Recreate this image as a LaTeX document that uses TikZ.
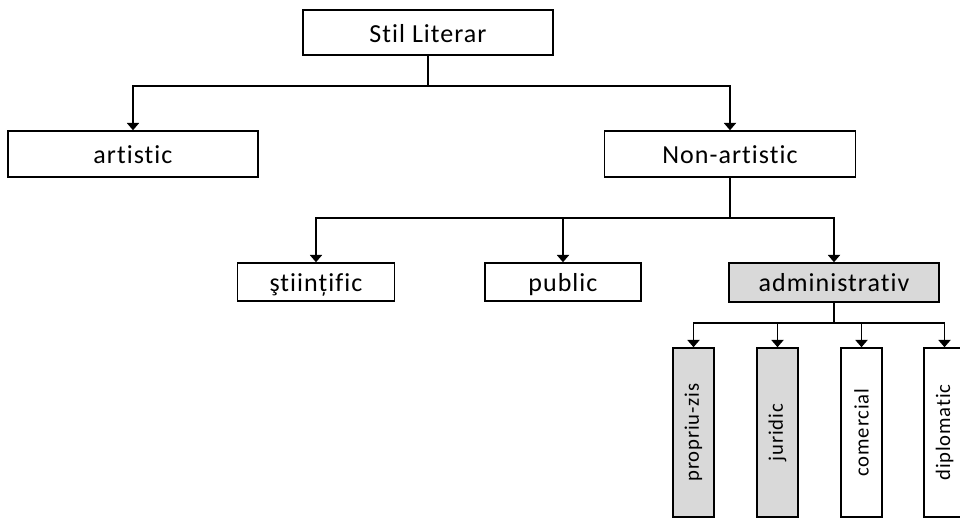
\documentclass[tikz,border=0pt]{standalone}
\usepackage{fontspec}
\usepackage{graphicx}
\setmainfont{Carlito}[Ligatures={NoCommon,NoRequired}, LetterSpace=4]
\usetikzlibrary{arrows.meta}
\definecolor{shade}{HTML}{D9D9D9}
\tikzset{
  box/.style={draw=black, line width=1.1pt, inner sep=0pt, text height=15pt, text depth=1.5pt,
    font=\fontsize{19.5}{21}\selectfont},
  vbox/.style={draw=black, line width=1.1pt, inner sep=0pt, minimum width=41*0.75pt,
    minimum height=169*0.75pt, font=\fontsize{15.5}{17}\selectfont},
  conn/.style={line width=1.4pt},
  arr/.style={conn, -{Triangle[width=9pt,length=5.5pt]}}
}
\begin{document}
\begin{tikzpicture}[x=0.75pt, y=-0.75pt]
\useasboundingbox (0,0) rectangle (960,518);

% top level
\node[box, text height=17pt, minimum width=250*0.75pt, minimum height=45*0.75pt] (root) at (428,32.5) {Stil Literar};
\node[box, minimum width=250*0.75pt, minimum height=46*0.75pt] (art) at (133,154) {artistic};
\node[box, minimum width=251*0.75pt, minimum height=46*0.75pt] (nonart) at (730,154) {Non-artistic};

% second level
\node[box, minimum width=157*0.75pt, minimum height=38*0.75pt] (sti) at (316,282) {ştiințific};
\node[box, minimum width=156*0.75pt, minimum height=38*0.75pt] (pub) at (563,282) {public};
\node[box, fill=shade, minimum width=210*0.75pt, minimum height=39*0.75pt] (adm) at (834,282.5) {administrativ};

% administrative sub-styles (vertical labels)
\node[vbox, fill=shade] (pz) at (693.5,432.5) {\rotatebox{90}{propriu-zis}};
\node[vbox, fill=shade] (jur) at (777.5,432.5) {\rotatebox{90}{juridic}};
\node[vbox] (com) at (861.5,432.5) {\rotatebox{90}{comercial}};
\node[vbox] (dip) at (944.5,432.5) {\rotatebox{90}{diplomatic}};

% junction points
\coordinate (j1) at (428,86);
\coordinate (j2) at (730,218);
\coordinate (j3) at (834,323);

% connectors
\draw[conn] (root) -- (j1);
\draw[arr] (j1) -| (art);
\draw[arr] (j1) -| (nonart);

\draw[conn] (nonart) -- (j2);
\draw[arr] (j2) -| (sti);
\draw[arr] (j2) -| (pub);
\draw[arr] (j2) -| (adm);

\draw[conn] (adm) -- (j3);
\draw[arr] (j3) -| (pz);
\draw[arr] (j3) -| (jur);
\draw[arr] (j3) -| (com);
\draw[arr] (j3) -| (dip);
\end{tikzpicture}
\end{document}
